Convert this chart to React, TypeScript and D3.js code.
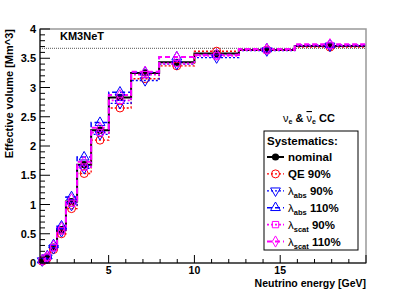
import { useEffect, useRef } from "react";
import * as d3 from "d3";

// log bins, 10 per decade
const binEdges = [1, 1.259, 1.585, 1.995, 2.512, 3.162, 3.981, 5.012, 6.31, 7.943, 10, 12.59, 15.85, 19.95];

const nominal = [0.04, 0.1, 0.27, 0.57, 1.05, 1.68, 2.27, 2.83, 3.25, 3.43, 3.58, 3.64, 3.71];
const qe90 = [0.03, 0.08, 0.23, 0.5, 0.93, 1.53, 2.1, 2.65, 3.15, 3.37, 3.62, 3.64, 3.69];
const abs90 = [0.04, 0.09, 0.25, 0.54, 0.99, 1.62, 2.2, 2.73, 3.12, 3.4, 3.51, 3.63, 3.71];
const abs110 = [0.05, 0.12, 0.31, 0.63, 1.13, 1.81, 2.4, 2.92, 3.26, 3.52, 3.56, 3.66, 3.73];
const scat90 = [0.04, 0.1, 0.26, 0.55, 1.02, 1.64, 2.23, 2.78, 3.22, 3.41, 3.54, 3.64, 3.72];
const scat110 = [0.05, 0.11, 0.29, 0.6, 1.09, 1.73, 2.31, 2.87, 3.27, 3.52, 3.56, 3.66, 3.74];

const refLine = 3.67;
const xTicks = [5, 10, 15];
const yTicks = [0, 0.5, 1, 1.5, 2, 2.5, 3, 3.5, 4];

const series = [
  { key: "nominal", values: nominal, color: "#000000", width: 2, dash: null, marker: "circleFill", label: "nominal", sub: null },
  { key: "qe90", values: qe90, color: "#ff0000", width: 1.3, dash: "2,2", marker: "circle", label: "QE 90%", sub: null },
  { key: "abs90", values: abs90, color: "#0000ff", width: 1.3, dash: "2,2", marker: "triDown", label: "90%", sub: "abs" },
  { key: "abs110", values: abs110, color: "#0000ff", width: 1.5, dash: "5,3", marker: "triUp", label: "110%", sub: "abs" },
  { key: "scat90", values: scat90, color: "#ff00ff", width: 1.8, dash: "2,2", marker: "square", label: "90%", sub: "scat" },
  { key: "scat110", values: scat110, color: "#ff00ff", width: 2, dash: "5,3", marker: "diamond", label: "110%", sub: "scat" },
];

const FONT = "'Liberation Sans', Arial, Helvetica, sans-serif";

const drawMarker = (g: any, type: string, x: number, y: number, color: string) => {
  if (type === "circleFill") {
    g.append("circle").attr("cx", x).attr("cy", y).attr("r", 3.6).attr("fill", color);
  } else if (type === "circle") {
    g.append("circle").attr("cx", x).attr("cy", y).attr("r", 4).attr("fill", "none").attr("stroke", color).attr("stroke-width", 1);
  } else {
    const sym =
      type === "triUp" ? d3.symbolTriangle : type === "square" ? d3.symbolSquare : type === "diamond" ? d3.symbolDiamond : d3.symbolTriangle;
    const size = type === "square" ? 40 : type === "diamond" ? 36 : 42;
    g.append("path")
      .attr("d", d3.symbol(sym, size)())
      .attr("transform", `translate(${x},${y})${type === "triDown" ? " rotate(180)" : ""}`)
      .attr("fill", "none")
      .attr("stroke", color)
      .attr("stroke-width", 1);
  }
};

const EffVolume = () => {
  const ref = useRef<SVGSVGElement | null>(null);

  useEffect(() => {
    drawChart();
  }, []);

  const drawChart = () => {
    const svg = d3.select(ref.current);
    svg.selectAll("*").remove();

    const margin = { top: 29, right: 41, bottom: 29, left: 40 };
    const W = 407;
    const H = 292;

    const xScale = d3.scaleLinear().domain([1, 20]).range([margin.left, W - margin.right]);
    const yScale = d3.scaleLinear().domain([0, 4]).range([H - margin.bottom, margin.top]);

    // frame
    svg
      .append("rect")
      .attr("x", margin.left)
      .attr("y", margin.top)
      .attr("width", W - margin.left - margin.right)
      .attr("height", H - margin.top - margin.bottom)
      .attr("fill", "white")
      .attr("stroke", "#999")
      .attr("stroke-width", 1.5);

    // reference dotted line
    svg
      .append("line")
      .attr("x1", xScale(1))
      .attr("x2", xScale(20))
      .attr("y1", yScale(refLine))
      .attr("y2", yScale(refLine))
      .attr("stroke", "#555")
      .attr("stroke-width", 1)
      .attr("stroke-dasharray", "1,1");

    // histograms
    const stepLine = d3
      .line<[number, number]>()
      .x((d) => xScale(d[0]))
      .y((d) => yScale(d[1]))
      .curve(d3.curveStepAfter);

    series.forEach((s) => {
      const pts: [number, number][] = s.values.map((v, i) => [binEdges[i], v]);
      pts.push([binEdges[binEdges.length - 1], s.values[s.values.length - 1]]);
      svg
        .append("path")
        .attr("d", stepLine(pts))
        .attr("fill", "none")
        .attr("stroke", s.color)
        .attr("stroke-width", s.width)
        .attr("stroke-dasharray", s.dash ?? null);
    });

    // markers at bin centres
    const mk = svg.append("g");
    series.forEach((s) => {
      s.values.forEach((v, i) => {
        const cx = xScale((binEdges[i] + binEdges[i + 1]) / 2);
        drawMarker(mk, s.marker, cx, yScale(v), s.color);
      });
    });

    // axes lines
    const ax = svg.append("g").attr("stroke", "#000").attr("stroke-width", 1);
    ax.append("line").attr("x1", margin.left).attr("x2", margin.left).attr("y1", margin.top).attr("y2", H - margin.bottom);
    ax.append("line").attr("x1", margin.left).attr("x2", W - margin.right).attr("y1", H - margin.bottom).attr("y2", H - margin.bottom);

    // y ticks (inside)
    d3.range(0, 4.001, 0.1).forEach((t) => {
      const major = Math.abs(t * 2 - Math.round(t * 2)) < 1e-6;
      ax.append("line")
        .attr("x1", margin.left)
        .attr("x2", margin.left + (major ? 10 : 5))
        .attr("y1", yScale(t))
        .attr("y2", yScale(t));
    });
    // x ticks (inside)
    d3.range(1, 20.001, 1).forEach((t) => {
      const major = t % 5 === 0;
      ax.append("line")
        .attr("x1", xScale(t))
        .attr("x2", xScale(t))
        .attr("y1", H - margin.bottom)
        .attr("y2", H - margin.bottom - (major ? 8 : 4));
    });

    const txt = svg.append("g").attr("font-family", FONT).attr("font-weight", "bold").attr("fill", "#000");

    yTicks.forEach((t) => {
      txt.append("text")
        .attr("x", margin.left - 4)
        .attr("y", yScale(t) + 4)
        .attr("text-anchor", "end")
        .attr("font-size", 11)
        .text(t.toString());
    });
    xTicks.forEach((t) => {
      txt.append("text")
        .attr("x", xScale(t))
        .attr("y", H - margin.bottom + 11)
        .attr("text-anchor", "middle")
        .attr("font-size", 10.5)
        .text(t.toString());
    });

    // axis titles
    txt.append("text")
      .attr("transform", `translate(13,${margin.top}) rotate(-90)`)
      .attr("text-anchor", "end")
      .attr("font-size", 11)
      .text("Effective volume [Mm^3]");
    txt.append("text")
      .attr("x", W - margin.right)
      .attr("y", H - 5)
      .attr("text-anchor", "end")
      .attr("font-size", 10.5)
      .text("Neutrino energy [GeV]");

    txt.append("text").attr("x", 60).attr("y", 40).attr("font-size", 11).text("KM3NeT");

    // nu_e & anti-nu_e CC
    const nu = txt.append("text").attr("x", 283).attr("y", 122).attr("font-size", 11);
    nu.append("tspan").attr("font-weight", "normal").text("ν");
    nu.append("tspan").attr("font-size", 7).attr("dy", 2).text("e");
    nu.append("tspan").attr("dy", -2).text(" & ");
    nu.append("tspan").attr("font-weight", "normal").attr("text-decoration", "overline").text("ν");
    nu.append("tspan").attr("font-size", 7).attr("dy", 2).text("e");
    nu.append("tspan").attr("dy", -2).text(" CC");

    // legend
    const lg = svg.append("g");
    lg.append("rect")
      .attr("x", 264)
      .attr("y", 131)
      .attr("width", 94)
      .attr("height", 119)
      .attr("fill", "white")
      .attr("stroke", "#000")
      .attr("stroke-width", 1);
    lg.append("text")
      .attr("x", 267)
      .attr("y", 145)
      .attr("font-family", FONT)
      .attr("font-weight", "bold")
      .attr("font-size", 11.5)
      .text("Systematics:");

    series.forEach((s, i) => {
      const y = 157 + i * 16.9;
      lg.append("line")
        .attr("x1", 267)
        .attr("x2", 284)
        .attr("y1", y)
        .attr("y2", y)
        .attr("stroke", s.color)
        .attr("stroke-width", s.width)
        .attr("stroke-dasharray", s.dash ?? null);
      drawMarker(lg, s.marker, 275.5, y, s.color);
      const t = lg
        .append("text")
        .attr("x", 288)
        .attr("y", y + 4)
        .attr("font-family", FONT)
        .attr("font-weight", "bold")
        .attr("font-size", 11.5);
      if (s.sub) {
        t.append("tspan").attr("font-weight", "normal").text("λ");
        t.append("tspan").attr("font-size", 7.5).attr("dy", 3).text(s.sub);
        t.append("tspan").attr("dy", -3).text(" " + s.label);
      } else {
        t.text(s.label);
      }
    });
  };

  return <svg ref={ref} width={407} height={292} style={{ display: "block" }} />;
};

export default function App() {
  return (
    <div style={{ position: "fixed", left: 0, top: 0, width: 407, height: 292, background: "white" }}>
      <EffVolume />
    </div>
  );
}
